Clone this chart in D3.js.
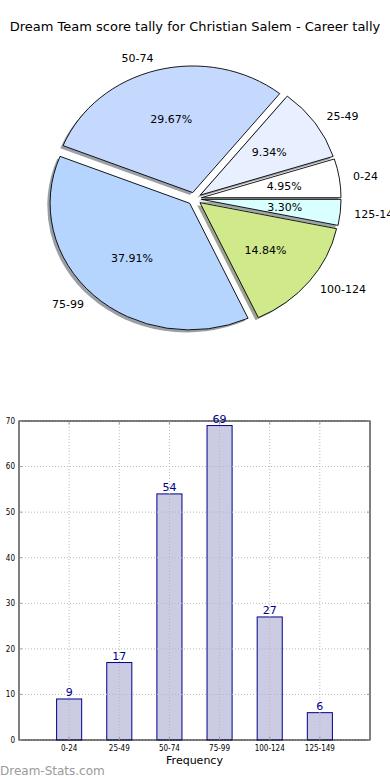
<!DOCTYPE html>
<html><head><meta charset="utf-8">
<script src="https://cdn.jsdelivr.net/npm/d3@7"></script>
<style>
html,body{margin:0;padding:0;background:#fff;}
svg{display:block;font-family:"DejaVu Sans",sans-serif;}
</style></head>
<body>
<svg id="c" width="390" height="780"></svg>
<script>
const title = "Dream Team score tally for Christian Salem - Career tally";
const categories = ["0-24","25-49","50-74","75-99","100-124","125-149"];
const counts = [9,17,54,69,27,6];
const pieColors = ["#ffffff","#e8f0ff","#c5d9ff","#b5d5ff","#d0e98a","#d9ffff"];
const yTicks = [0,10,20,30,40,50,60,70];
const xLabel = "Frequency";
const watermark = "Dream-Stats.com";

const svg = d3.select("#c");

svg.append("text").attr("x",195).attr("y",31).attr("text-anchor","middle")
  .attr("font-size",13).attr("fill","#000").text(title);

// ---------- Pie ----------
const cx = 194.5, cy = 198.7, rx = 139.6, ry = 126.6, explode = 0.05;
const total = d3.sum(counts);
const pie = d3.pie().sort(null).startAngle(Math.PI/2).endAngle(Math.PI/2 - 2*Math.PI);
const arcs = pie(counts);
const arc = d3.arc().innerRadius(0).outerRadius(rx);
const sy = ry/rx;

const pg = svg.append("g");
function off(d, f){
  const a = (d.startAngle + d.endAngle)/2;
  return [Math.sin(a)*f*rx, -Math.cos(a)*f*ry];
}
// shadows
arcs.forEach((d,i)=>{
  const [dx,dy] = off(d, explode);
  const c = d3.rgb(pieColors[i]);
  const sc = d3.rgb(c.r*0.3, c.g*0.3, c.b*0.3);
  pg.append("path").attr("d", arc(d))
    .attr("transform",`translate(${cx+dx-2.8},${cy+dy+2.5}) scale(1,${sy})`)
    .attr("fill", sc).attr("fill-opacity",0.5);
});
arcs.forEach((d,i)=>{
  const [dx,dy] = off(d, explode);
  pg.append("path").attr("d", arc(d))
    .attr("transform",`translate(${cx+dx},${cy+dy}) scale(1,${sy})`)
    .attr("fill", pieColors[i]).attr("stroke","#000").attr("stroke-width",0.9)
    .attr("vector-effect","non-scaling-stroke").attr("stroke-linejoin","round");
});
arcs.forEach((d,i)=>{
  const a = (d.startAngle + d.endAngle)/2;
  const [lx,ly] = off(d, explode+1.1);
  pg.append("text").attr("x",cx+lx).attr("y",cy+ly).attr("dy","0.35em")
    .attr("text-anchor", Math.sin(a) > 0 ? "start" : "end")
    .attr("font-size",11).attr("fill","#000").text(categories[i]);
  const [px,py] = off(d, explode+0.6);
  pg.append("text").attr("x",cx+px).attr("y",cy+py).attr("dy","0.35em")
    .attr("text-anchor","middle").attr("font-size",11).attr("fill","#000")
    .text((counts[i]/total*100).toFixed(2)+"%");
});

// ---------- Bar chart ----------
const L = 19, R = 370, T = 421, B = 740;
const x = d3.scaleLinear().domain([0,7]).range([L,R]);
const y = d3.scaleLinear().domain([0,70]).range([B,T]);
const bg = svg.append("g");
const barW = x(0.5)-x(0);

bg.selectAll("rect.bar").data(counts).join("rect").attr("class","bar")
  .attr("x",(d,i)=>x(i+1)-barW/2).attr("width",barW)
  .attr("y",d=>y(d)).attr("height",d=>B-y(d))
  .attr("fill","#cbcbe3").attr("stroke","#00008b").attr("stroke-width",1);

// grid
bg.selectAll("line.hg").data(yTicks).join("line").attr("class","hg")
  .attr("x1",L).attr("x2",R).attr("y1",d=>y(d)).attr("y2",d=>y(d))
  .attr("stroke","#b8b8b8").attr("stroke-dasharray","1,2").attr("stroke-width",1);
bg.selectAll("line.vg").data(categories).join("line").attr("class","vg")
  .attr("x1",(d,i)=>x(i+1)).attr("x2",(d,i)=>x(i+1)).attr("y1",T).attr("y2",B)
  .attr("stroke","#b8b8b8").attr("stroke-dasharray","1,2").attr("stroke-width",1);

// frame
bg.append("rect").attr("x",L).attr("y",T).attr("width",R-L).attr("height",B-T)
  .attr("fill","none").attr("stroke","#000").attr("stroke-width",1);

// tick marks
bg.selectAll("line.yt").data(yTicks).join("line").attr("class","yt")
  .attr("x1",L).attr("x2",L+3).attr("y1",d=>y(d)).attr("y2",d=>y(d)).attr("stroke","#999");
bg.selectAll("line.yt2").data(yTicks).join("line").attr("class","yt2")
  .attr("x1",R-3).attr("x2",R).attr("y1",d=>y(d)).attr("y2",d=>y(d)).attr("stroke","#999");
bg.selectAll("line.xt").data(categories).join("line").attr("class","xt")
  .attr("x1",(d,i)=>x(i+1)).attr("x2",(d,i)=>x(i+1)).attr("y1",B-3).attr("y2",B).attr("stroke","#999");
bg.selectAll("line.xt2").data(categories).join("line").attr("class","xt2")
  .attr("x1",(d,i)=>x(i+1)).attr("x2",(d,i)=>x(i+1)).attr("y1",T).attr("y2",T+3).attr("stroke","#999");

// tick labels
bg.selectAll("text.yl").data(yTicks).join("text").attr("class","yl")
  .attr("x",L-4).attr("y",d=>y(d)).attr("dy","0.35em").attr("text-anchor","end")
  .attr("font-size",8).attr("font-family","'DejaVu Sans Condensed','DejaVu Sans',sans-serif")
  .attr("fill","#000").text(d=>d);
bg.selectAll("text.xl").data(categories).join("text").attr("class","xl")
  .attr("x",(d,i)=>x(i+1)).attr("y",B+8).attr("dy","0.35em").attr("text-anchor","middle")
  .attr("font-size",8).attr("font-family","'DejaVu Sans Condensed','DejaVu Sans',sans-serif")
  .attr("fill","#000").text(d=>d);

// value labels
bg.selectAll("text.vl").data(counts).join("text").attr("class","vl")
  .attr("x",(d,i)=>x(i+1)).attr("y",d=>y(d)-3).attr("text-anchor","middle")
  .attr("font-size",11).attr("fill","#00008b").text(d=>d);

bg.append("text").attr("x",(L+R)/2).attr("y",760).attr("dy","0.35em")
  .attr("text-anchor","middle").attr("font-size",11).attr("fill","#000").text(xLabel);

svg.append("text").attr("x",0).attr("y",775).attr("font-size",12)
  .attr("fill","#9a9a9a").text(watermark);
</script>
</body></html>
